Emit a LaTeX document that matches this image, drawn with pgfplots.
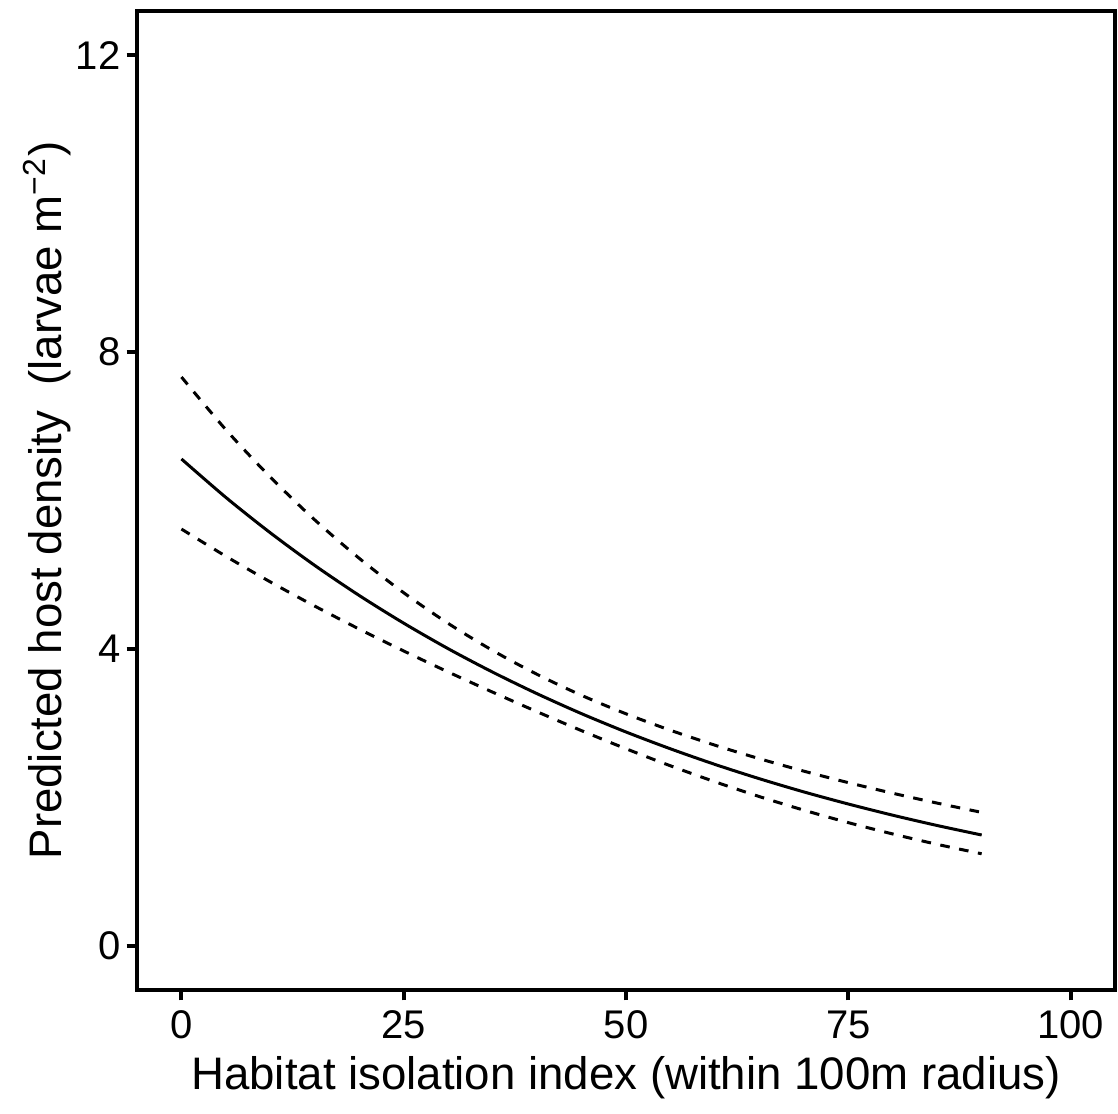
\documentclass[border=0pt]{standalone}
\usepackage{fontspec}
\setmainfont{Liberation Sans}
\usepackage{pgfplots}
\pgfplotsset{compat=1.18}

% predicted density with 95% band
\pgfplotstableread{
x   fit    lo     hi
0   6.560  5.615  7.665
5   6.041  5.248  6.954
10  5.564  4.902  6.315
15  5.124  4.576  5.738
20  4.719  4.266  5.220
25  4.346  3.971  4.756
30  4.002  3.688  4.343
35  3.686  3.416  3.978
40  3.395  3.152  3.656
45  3.126  2.897  3.373
50  2.879  2.653  3.124
55  2.652  2.423  2.902
60  2.442  2.208  2.701
65  2.249  2.008  2.519
70  2.071  1.825  2.351
75  1.908  1.657  2.196
80  1.757  1.504  2.053
85  1.618  1.364  1.920
90  1.490  1.237  1.795
}\dens

\begin{document}
\begin{tikzpicture}
\begin{axis}[
  width=244.5pt, height=244.75pt, scale only axis,
  xmin=-5, xmax=105, ymin=-0.6, ymax=12.6,
  xtick={0,25,50,75,100}, ytick={0,4,8,12},
  tick pos=left, tick align=outside,
  major tick length=2.6pt,
  tick style={black, line width=1pt},
  axis line style={black, line width=1pt},
  /pgf/number format/assume math mode=true,
  tick label style={font=\fontsize{10}{12}\selectfont},
  xticklabel style={yshift=1pt},
  yticklabel style={xshift=2pt},
  label style={font=\fontsize{11.4}{13}\selectfont},
  xlabel={Habitat isolation index (within 100m radius)},
  ylabel={Predicted host density\ \ (larvae m\textsuperscript{\char"2212 2})},
  xlabel style={yshift=2.5pt},
  ylabel style={yshift=-5.5pt},
]
\addplot[black, line width=0.75pt, smooth] table[x=x, y=fit] {\dens};
\addplot[black, line width=0.75pt, smooth, dash pattern=on 2.4pt off 2.4pt] table[x=x, y=hi] {\dens};
\addplot[black, line width=0.75pt, smooth, dash pattern=on 2.4pt off 2.4pt] table[x=x, y=lo] {\dens};
\end{axis}
\pgfresetboundingbox
\path (current axis.south west) ++(-34.25pt,-30.75pt) coordinate (bbA)
      (current axis.north east) ++(0.75pt,2.75pt) coordinate (bbB);
\useasboundingbox (bbA) rectangle (bbB);
\end{tikzpicture}
\end{document}
